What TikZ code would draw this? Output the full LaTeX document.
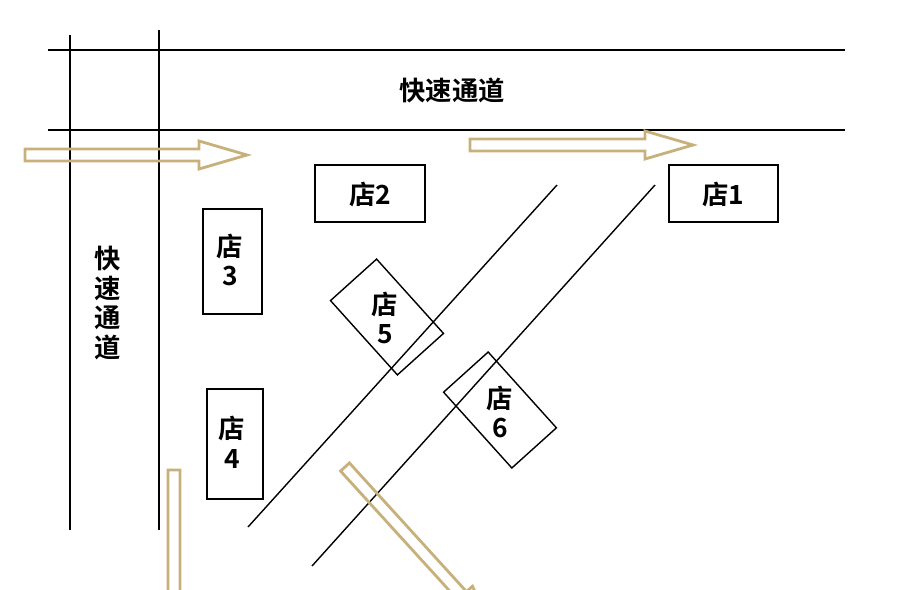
\documentclass[tikz,border=0pt]{standalone}
\usepackage{fontspec}
\newfontfamily\cjk{Noto Sans CJK SC Bold}
\definecolor{tan}{HTML}{C8B07A}
\newcommand\harrow[4]{% x y angle length
  \draw[tan,line width=1.6pt,line join=miter] [shift={(#1,#2)},rotate=#3]
   (0,-6) -- (#4-48,-6) -- (#4-48,-14) -- (#4,0) -- (#4-48,14) -- (#4-48,6) -- (0,6) -- cycle;}
\begin{document}
\begin{tikzpicture}[x=0.02cm,y=-0.02cm,
  txt/.style={font=\cjk\fontsize{15}{17}\selectfont,align=center},
  box/.style={draw,line width=0.8pt,minimum width=#1}]
\useasboundingbox (0,0) rectangle (900,589);
\tikzset{ln/.style={line width=0.8pt}}
\draw[ln] (48,50) -- (845,50);
\draw[ln] (48,130) -- (845,130);
\draw[ln] (70,35) -- (70,530);
\draw[ln] (159,30) -- (159,530);
\draw[ln] (248,527) -- (557,185);
\draw[ln] (312,566) -- (655,185);
\node[txt] (h) at (452,90) {快速通道};
\node[txt,align=center,text width=1em] (v) at (103,303) {快\\速\\通\\道};
\draw[ln] (315,165) rectangle (425,222); \node[txt] (s2) at (370,194) {店2};
\draw[ln] (669,165) rectangle (778,222); \node[txt] (s1) at (723,194) {店1};
\draw[ln] (203,209) rectangle (262,314); \node[txt] (s3) at (230,260) {店\\3};
\draw[ln] (207,389) rectangle (263,499); \node[txt] (s4) at (232,442) {店\\4};
\draw[ln,rotate around={-48:(387,317)}] (337,286) rectangle (437,348);
\node[txt] (s5) at (385,318) {店\\5};
\draw[ln,rotate around={-48:(500,410)}] (449,380) rectangle (551,440);
\node[txt] (s6) at (500,412) {店\\6};
\harrow{25}{155}{0}{222}
\harrow{470}{145}{0}{223}
\harrow{174}{470}{-90}{225}
\harrow{345}{467}{-47.7}{222}
\end{tikzpicture}
\end{document}
